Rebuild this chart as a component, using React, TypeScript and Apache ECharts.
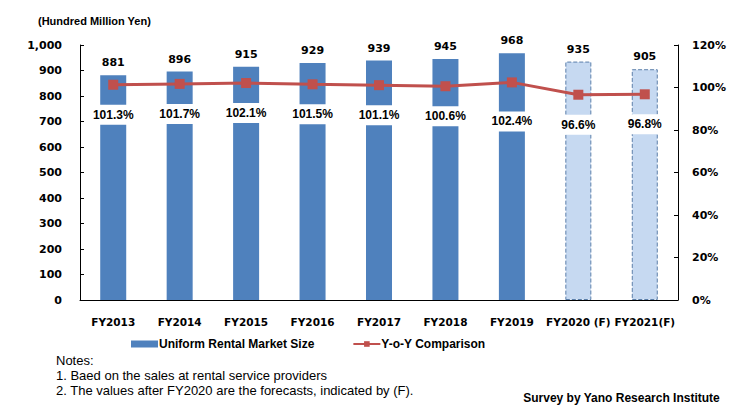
import * as echarts from "echarts";
import { useEffect, useRef } from "react";

const years = [
  "FY2013",
  "FY2014",
  "FY2015",
  "FY2016",
  "FY2017",
  "FY2018",
  "FY2019",
  "FY2020 (F)",
  "FY2021(F)",
];
const marketSize = [881, 896, 915, 929, 939, 945, 968, 935, 905];
const yoy = [101.3, 101.7, 102.1, 101.5, 101.1, 100.6, 102.4, 96.6, 96.8];
const forecastFrom = 7;

const notes = [
  "Notes:",
  "1. Baed on the sales at rental service providers",
  "2. The values after FY2020 are the forecasts, indicated by (F).",
];

const tickFont = {
  fontFamily: "DejaVu Sans",
  fontWeight: "bold" as const,
  fontSize: 11,
  color: "#000",
};

export default function App() {
  const chartRef = useRef<HTMLDivElement | null>(null);

  useEffect(() => {
    if (!chartRef.current) return;
    const chart = echarts.init(chartRef.current, null, { renderer: "svg" });

    const option: echarts.EChartsOption = {
      animation: false,
      grid: { left: 80, right: 62, top: 45, bottom: 117 },
      legend: {
        left: 126,
        top: 333,
        itemWidth: 27,
        itemHeight: 7,
        itemGap: 38,
        textStyle: {
          fontFamily: "Liberation Sans",
          fontWeight: "bold",
          fontSize: 12,
          color: "#000",
          padding: [0, 0, 0, -4],
        },
        data: [
          { name: "Uniform Rental Market Size", icon: "rect" },
          { name: "Y-o-Y Comparison" },
        ],
      },
      xAxis: {
        type: "category",
        data: years,
        axisLine: { lineStyle: { color: "#000", width: 1 } },
        axisTick: { inside: true, length: 4, lineStyle: { color: "#000" } },
        axisLabel: { ...tickFont, fontSize: 10.5, margin: 16, interval: 0 },
      },
      yAxis: [
        {
          type: "value",
          min: 0,
          max: 1000,
          interval: 100,
          axisLine: { show: true, lineStyle: { color: "#000" } },
          axisTick: { show: true, inside: true, length: 4, lineStyle: { color: "#000" } },
          axisLabel: {
            ...tickFont,
            margin: 18,
            formatter: (v: number) => v.toLocaleString("en-US"),
          },
          splitLine: { show: false },
        },
        {
          type: "value",
          min: 0,
          max: 120,
          interval: 20,
          axisLine: { show: true, lineStyle: { color: "#000" } },
          axisTick: { show: true, inside: true, length: 4, lineStyle: { color: "#000" } },
          axisLabel: { ...tickFont, margin: 14, formatter: "{value}%" },
          splitLine: { show: false },
        },
      ],
      series: [
        {
          name: "Uniform Rental Market Size",
          type: "bar",
          barWidth: 26,
          itemStyle: { color: "#4F81BD" },
          label: {
            show: true,
            position: "top",
            distance: 7,
            ...tickFont,
          },
          data: marketSize.map((v, i) =>
            i >= forecastFrom
              ? {
                  value: v,
                  itemStyle: {
                    color: "#C6D9F1",
                    borderColor: "#5B7FAA",
                    borderWidth: 1,
                    borderType: "dashed",
                  },
                }
              : v,
          ),
        },
        {
          name: "Y-o-Y Comparison",
          type: "line",
          yAxisIndex: 1,
          z: 5,
          symbol: "rect",
          symbolSize: 10,
          lineStyle: { color: "#C0504D", width: 3 },
          itemStyle: { color: "#C0504D" },
          label: {
            show: true,
            position: "bottom",
            distance: 15,
            formatter: (p: any) => `${p.value.toFixed(1)}%`,
            fontFamily: "Liberation Sans",
            fontWeight: "bold",
            fontSize: 12,
            color: "#000",
            backgroundColor: "#fff",
            padding: [4, 2],
          },
          data: yoy.map((v, i) =>
            i === 6 ? { value: v, label: { distance: 24 } } : v,
          ),
        },
      ],
      graphic: [
        {
          type: "text",
          left: 38,
          top: 15,
          style: {
            text: "(Hundred Million Yen)",
            fontFamily: "Liberation Sans",
            fontWeight: "bold",
            fontSize: 11,
            fill: "#000",
          },
        },
        ...notes.map((t, i) => ({
          type: "text" as const,
          left: 56,
          top: 354 + i * 15,
          style: {
            text: t,
            fontFamily: "Liberation Sans",
            fontSize: 13,
            fill: "#000",
          },
        })),
        {
          type: "text",
          right: 20,
          top: 392,
          style: {
            text: "Survey by Yano Research Institute",
            fontFamily: "Liberation Sans",
            fontWeight: "bold",
            fontSize: 12,
            fill: "#000",
          },
        },
      ],
    };

    chart.setOption(option);
    return () => {
      chart.dispose();
    };
  }, []);

  return <div ref={chartRef} style={{ width: 740, height: 417, margin: -8 }} />;
}
